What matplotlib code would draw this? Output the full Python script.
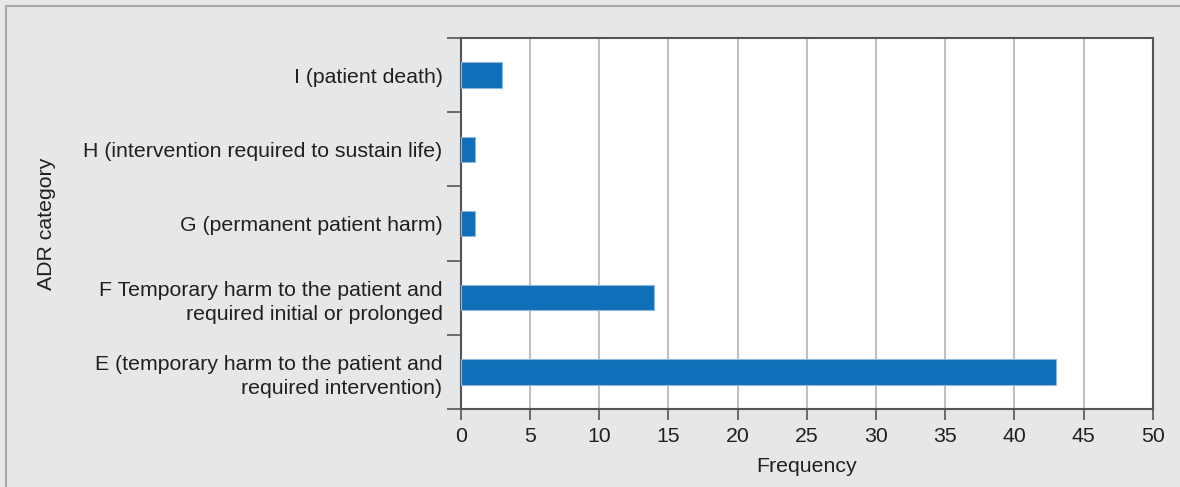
import matplotlib.pyplot as plt
from matplotlib.patches import Rectangle

# categories from bottom to top
categories = ["E (temporary harm to the patient and\nrequired intervention)",
              "F Temporary harm to the patient and\nrequired initial or prolonged",
              "G (permanent patient harm)",
              "H (intervention required to sustain life)",
              "I (patient death)"]
frequency = [43, 14, 1, 1, 3]
x_ticks = [0, 5, 10, 15, 20, 25, 30, 35, 40, 45, 50]

plt.rcParams['font.family'] = ['Liberation Sans', 'DejaVu Sans']

fig = plt.figure(figsize=(11.8, 4.87), dpi=100)
fig.patch.set_facecolor('#e6e7e9')
# cadre gris autour de la figure
fig.patches.append(Rectangle((6 / 1180, -0.1), 1.2, 1.1 - 6 / 487, transform=fig.transFigure,
                             fill=False, edgecolor='#a9a9a9', linewidth=1.5))

ax = fig.add_axes([0.3904, 0.160, 0.5865, 0.762])
ax.set_facecolor('white')

y = range(len(categories))
ax.barh(y, frequency, height=0.34, color='#0f6fb8', edgecolor='#8fb8de', linewidth=0.8, zorder=3)

ax.set_xlim(0, 50)
ax.set_ylim(-0.5, 4.5)
ax.set_xticks(x_ticks)
ax.xaxis.grid(True, color='#c0c0c0', linewidth=1.5, zorder=0)

# ticks entre les catégories, labels au centre
ax.set_yticks([-0.5, 0.5, 1.5, 2.5, 3.5, 4.5])
ax.set_yticklabels([])
ax.set_yticks(list(y), minor=True)
ax.set_yticklabels(categories, minor=True, ha='right', fontsize=15.3, color='#231f20',
                   linespacing=1.35)
ax.tick_params(axis='y', which='minor', length=0, pad=13)
ax.tick_params(axis='y', which='major', length=10, width=1.2, color='#555555')
ax.tick_params(axis='x', length=8, width=1.2, color='#555555', labelsize=15.3, labelcolor='#231f20', pad=5)

for s in ax.spines.values():
    s.set_color('#555555')
    s.set_linewidth(1.5)

ax.set_xlabel("Frequency", fontsize=15.3, color='#231f20', labelpad=8)
ax.set_ylabel("ADR category", fontsize=15.3, color='#231f20')
ax.yaxis.set_label_coords(-0.585, 0.5)

fig.savefig('out.png', dpi=100, facecolor=fig.get_facecolor())
